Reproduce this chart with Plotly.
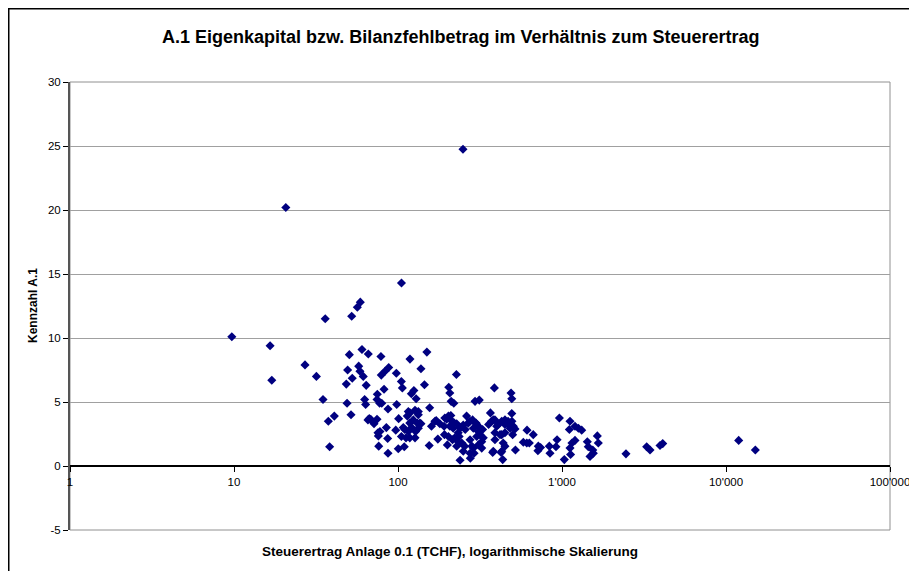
"""Scatter: Eigenkapital / Bilanzfehlbetrag vs. Steuerertrag (log x)."""

import plotly.graph_objects as go

# Steuerertrag Anlage 0.1 in TCHF
steuerertrag = [
    9.7, 16.6, 17.0, 20.7, 27.1, 31.8, 34.9, 36.0, 37.6, 40.9,
    38.3, 52.2, 56.5, 58.9, 50.5, 60.3, 65.9, 49.3, 52.6, 48.4,
    57.6, 58.6, 61.4, 64.0, 78.7, 79.1, 83.3, 87.8, 82.2, 74.8,
    62.6, 63.5, 48.9, 51.7, 74.5, 77.3, 86.9, 66.8, 74.5, 71.4,
    75.5, 75.9, 76.3, 84.9, 86.5, 86.9, 97.7, 104.8, 106.3, 98.2,
    96.9, 100.9, 100.4, 107.7, 104.9, 111.9, 109.2, 114, 118.3, 127,
    133, 118, 131, 118.3, 120.6, 125, 129, 138, 145, 150,
    128, 127, 138, 156, 155, 160, 175, 171, 180, 191,
    198, 210, 219, 204, 207, 211, 219, 227, 192, 200,
    215, 228, 236, 239, 250, 257, 262, 268, 275, 282,
    276, 291, 285, 299, 309, 295, 313, 316, 324, 328,
    324, 366, 357, 381, 387, 400, 390, 378, 419, 425,
    435, 438, 449, 469, 494, 489, 494, 505, 500, 520,
    612, 668, 581, 632, 717, 713, 837, 845, 933, 919,
    964, 740, 1033, 1119, 1109, 1200, 1259, 1319, 1150, 1200,
    1119, 1128, 1427, 1446, 1482, 1553, 1540, 1642, 1665, 2455,
    3283, 3441, 3960, 4113, 11950, 15100, 249, 105,
    65.6, 68.2, 77.6, 79.6,
    115.6, 133, 124, 136, 133, 110, 115.6, 121, 118, 168,
    193, 203, 213, 207, 217, 228, 239, 250, 233, 203,
    222, 233, 245, 255, 275, 288, 275, 302, 288, 309,
    302, 309, 331, 372, 390, 409, 429, 449, 471, 482,
    449, 429, 390, 449, 381, 429, 610, 517, 495,
]

# Kennzahl A.1
kennzahl = [
    10.1, 9.4, 6.7, 20.2, 7.9, 7.0, 5.2, 11.5, 3.5, 3.9,
    1.5, 11.7, 12.4, 12.8, 8.7, 9.1, 8.75, 7.5, 6.85, 6.4,
    7.8, 7.4, 7.0, 6.3, 8.55, 7.1, 7.4, 7.7, 6.0, 5.6,
    5.2, 4.8, 4.9, 4.0, 5.2, 4.9, 4.45, 3.7, 3.65, 3.3,
    2.6, 2.35, 1.55, 3.0, 2.15, 1.0, 7.25, 6.6, 6.1, 4.8,
    2.8, 3.7, 1.35, 3.0, 2.3, 2.2, 1.5, 3.9, 4.15, 4.35,
    4.0, 3.35, 3.35, 8.35, 5.65, 5.9, 5.25, 7.6, 6.35, 8.9,
    2.7, 2.2, 3.3, 4.55, 1.6, 3.1, 2.1, 3.55, 3.3, 3.1,
    3.65, 3.95, 3.4, 6.15, 5.7, 5.05, 4.9, 7.15, 2.45, 1.65,
    2.05, 1.55, 2.3, 0.45, 1.15, 2.85, 3.9, 3.35, 2.05, 1.55,
    0.6, 1.0, 3.6, 3.35, 3.1, 5.05, 5.15, 2.45, 1.9, 2.85,
    1.4, 4.15, 3.25, 3.6, 6.1, 3.1, 2.6, 1.05, 2.45, 1.05,
    0.5, 1.8, 3.6, 3.5, 4.1, 5.7, 5.25, 3.1, 2.45, 1.25,
    2.8, 2.45, 1.85, 1.8, 1.55, 1.2, 1.55, 1.0, 2.05, 1.5,
    3.75, 1.45, 0.5, 3.5, 2.85, 3.1, 2.95, 2.8, 1.8, 2.0,
    1.4, 0.9, 1.9, 1.5, 0.75, 1.0, 1.25, 2.35, 1.8, 0.95,
    1.5, 1.25, 1.6, 1.75, 2.0, 1.25, 24.75, 14.3,
    3.6, 3.65, 2.7, 4.9,
    4.25, 4.25, 3.6, 3.35, 2.95, 2.85, 2.7, 3.0, 2.2, 3.5,
    3.75, 3.9, 3.5, 3.1, 2.95, 3.3, 2.95, 3.2, 2.6, 2.3,
    2.2, 1.9, 1.8, 1.55, 1.0, 1.4, 3.5, 3.25, 2.95, 2.7,
    2.3, 1.65, 2.2, 3.5, 3.6, 3.25, 3.5, 3.25, 3.25, 2.95,
    2.6, 2.45, 2.05, 1.55, 1.15, 1.15, 1.8, 2.9, 3.5,
]

x_tickvals = [1, 10, 100, 1000, 10000, 100000]
x_ticktext = ["1", "10", "100", "1'000", "10'000", "100'000"]
y_tickvals = [-5, 0, 5, 10, 15, 20, 25, 30]
y_ticktext = ["-5", "0", "5", "10", "15", "20", "25", "30"]

FONT = "Liberation Sans, Arial, sans-serif"
NAVY = "#000080"

# the page body keeps its default 8px margin, so the figure is 8px smaller
W, H = 909, 563
L, R, T, B = 62, 27, 74, 41
pw, ph = W - L - R, H - T - B

fig = go.Figure(
    go.Scatter(
        x=steuerertrag,
        y=kennzahl,
        mode="markers",
        marker=dict(symbol="diamond", size=7, color=NAVY, line=dict(width=0)),
        cliponaxis=False,
    )
)

fig.update_xaxes(
    type="log",
    range=[0, 5],
    tickvals=x_tickvals,
    ticktext=x_ticktext,
    showgrid=False,
    zeroline=False,
    showline=True,
    linecolor="#000000",
    linewidth=1.5,
    ticks="outside",
    ticklen=5,
    tickcolor="#000000",
    anchor="free",
    position=5 / 35,
    automargin=False,
    tickfont=dict(family=FONT, size=11.5, color="#000000"),
)
fig.update_yaxes(
    range=[-5, 30],
    tickvals=y_tickvals,
    ticktext=y_ticktext,
    showgrid=True,
    gridcolor="#a0a0a0",
    gridwidth=1,
    zeroline=False,
    showline=True,
    linecolor="#555555",
    linewidth=2,
    ticks="outside",
    ticklen=5,
    tickcolor="#000000",
    automargin=False,
    tickfont=dict(family=FONT, size=11.5, color="#000000"),
)

# plot area frame and outer chart frame
fig.add_shape(type="rect", xref="paper", yref="paper", x0=0, x1=1, y0=0, y1=1,
              line=dict(color="#909090", width=1), layer="below")
fig.add_shape(type="rect", xref="paper", yref="paper",
              x0=(0.75 - L) / pw, x1=1 + (R + 20) / pw,
              y0=-(B + 20) / ph, y1=1 + (T - 0.75) / ph,
              line=dict(color="#000000", width=1.5))

fig.add_annotation(
    text="<b>A.1 Eigenkapital bzw. Bilanzfehlbetrag im Verhältnis zum Steuerertrag</b>",
    xref="paper", yref="paper", x=(452 - L) / pw, y=1 + (T - 29) / ph,
    showarrow=False, font=dict(family=FONT, size=18, color="#000000"),
    xanchor="center", yanchor="middle",
)
fig.add_annotation(
    text="<b>Steuerertrag Anlage 0.1 (TCHF), logarithmische Skalierung</b>",
    xref="paper", yref="paper", x=(442 - L) / pw, y=-(543 - (T + ph)) / ph,
    showarrow=False, font=dict(family=FONT, size=13.5, color="#000000"),
    xanchor="center", yanchor="middle",
)
fig.add_annotation(
    text="<b>Kennzahl A.1</b>",
    xref="paper", yref="paper", x=-(L - 25) / pw, y=0.5, textangle=-90,
    showarrow=False, font=dict(family=FONT, size=12, color="#000000"),
    xanchor="center", yanchor="middle",
)

fig.update_layout(
    width=W,
    height=H,
    margin=dict(l=L, r=R, t=T, b=B),
    paper_bgcolor="white",
    plot_bgcolor="white",
    showlegend=False,
)

fig.write_html("out.html")
